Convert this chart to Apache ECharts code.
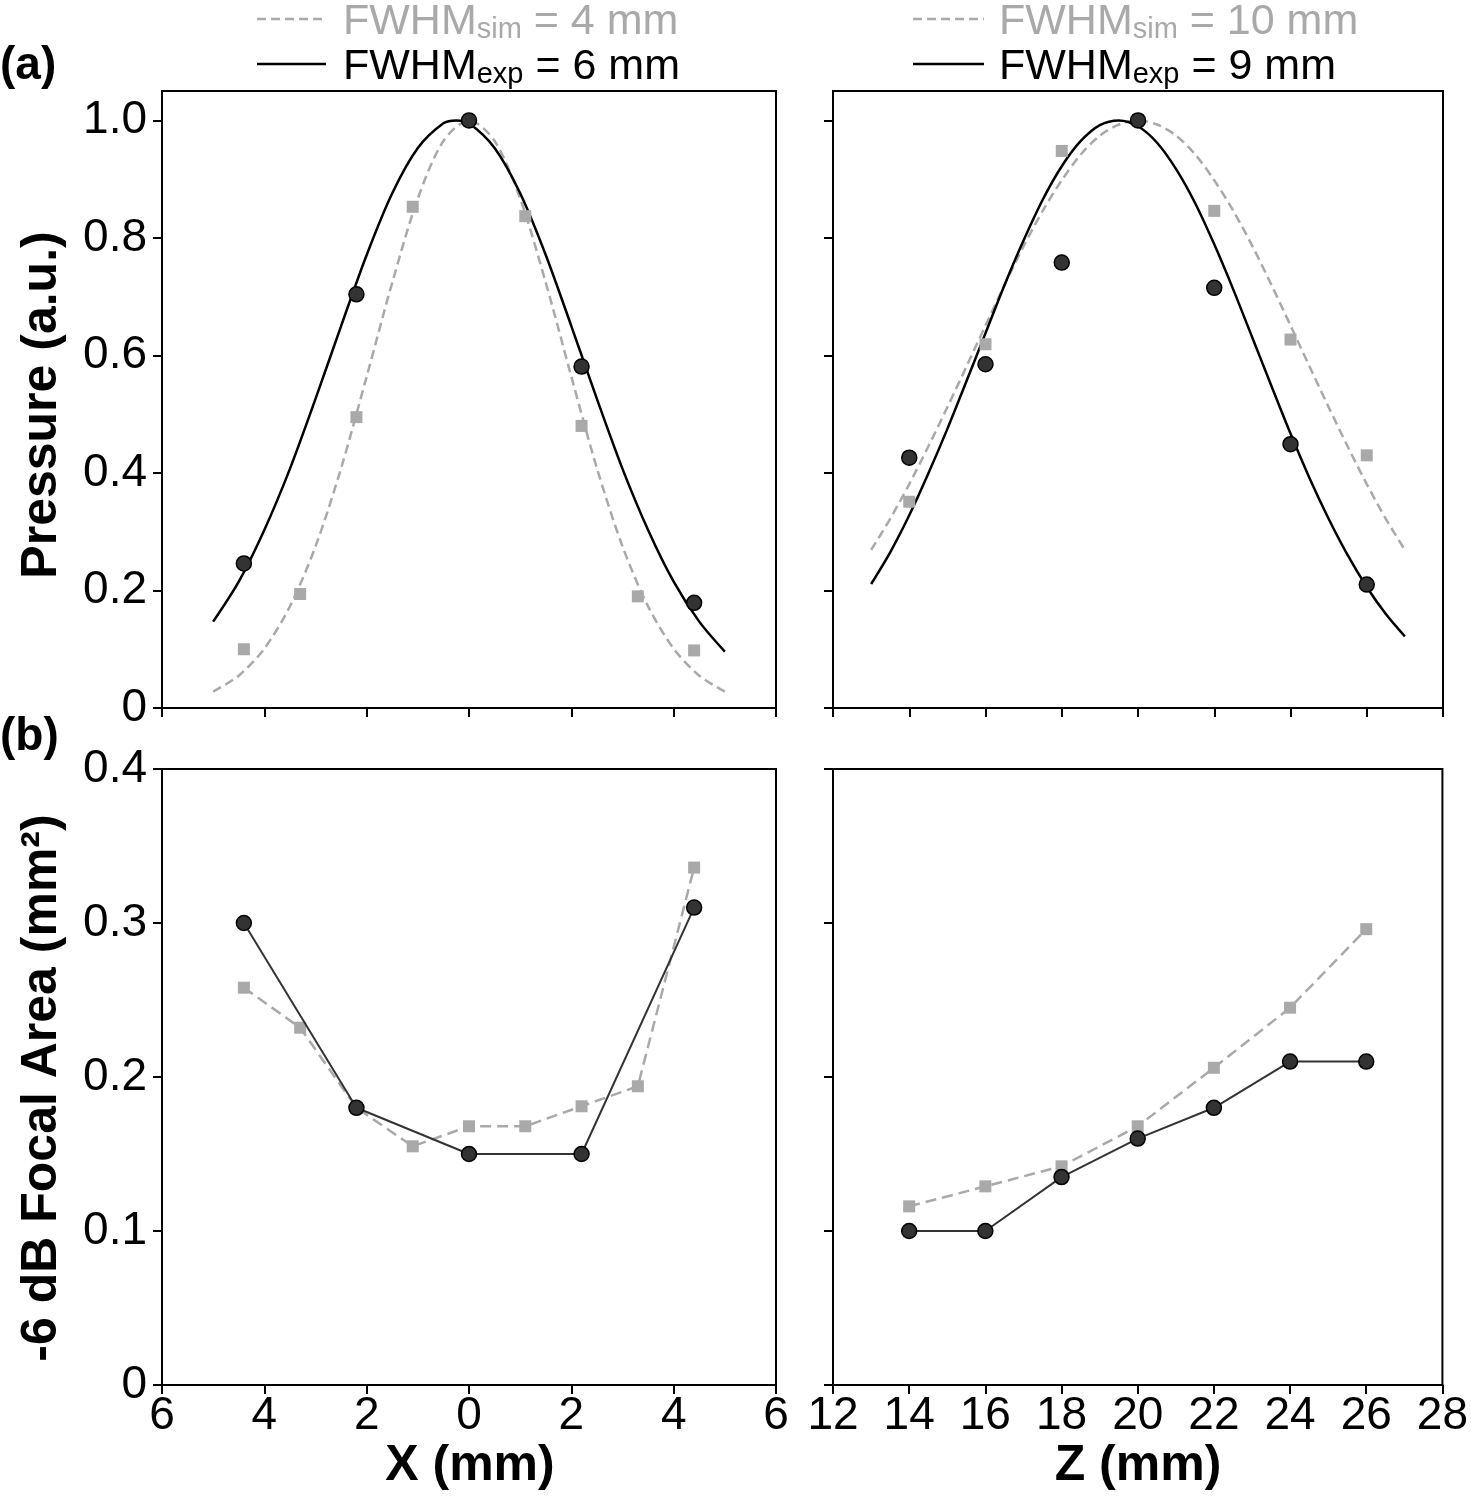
<!DOCTYPE html>
<html>
<head>
<meta charset="utf-8">
<script src="https://cdn.jsdelivr.net/npm/echarts@6/dist/echarts.min.js"></script>
<style>html,body{margin:0;padding:0;background:#fff;}#c{width:1471px;height:1500px;}</style>
</head>
<body>
<div id="c"></div>
<script>
// ---- tick labels ----
const xTicks = [-6, -4, -2, 0, 2, 4, 6];
const zTicks = [12, 14, 16, 18, 20, 22, 24, 26, 28];
const pressureTicks = [0, 0.2, 0.4, 0.6, 0.8, 1.0];
const areaTicks = [0, 0.1, 0.2, 0.3, 0.4];

// ---- (a) lateral X: measured points ----
const xExpPos = [-4.4, -2.2, 0, 2.2, 4.4];
const xExpPressure = [0.246, 0.704, 1.0, 0.581, 0.179];
const xSimPos = [-4.4, -3.3, -2.2, -1.1, 0, 1.1, 2.2, 3.3, 4.4];
const xSimPressure = [0.100, 0.194, 0.495, 0.853, 1.0, 0.837, 0.480, 0.190, 0.098];
// fitted curves
const xExpFitPos = [-5, -4.5, -4, -3.5, -3, -2.5, -2, -1.5, -1, -0.5, -0.25, 0, 0.5, 1, 1.5, 2, 2.5, 3, 3.5, 4, 4.5, 5];
const xExpFit = [0.147, 0.215, 0.303, 0.407, 0.526, 0.650, 0.771, 0.876, 0.953, 0.995, 1.0, 0.995, 0.953, 0.876, 0.771, 0.650, 0.526, 0.407, 0.303, 0.215, 0.147, 0.096];
const xSimFitPos = [-5, -4.5, -4, -3.5, -3, -2.5, -2, -1.5, -1, -0.5, 0, 0.5, 1, 1.5, 2, 2.5, 3, 3.5, 4, 4.5, 5];
const xSimFit = [0.028, 0.055, 0.101, 0.173, 0.275, 0.408, 0.564, 0.724, 0.867, 0.965, 1.0, 0.965, 0.867, 0.724, 0.564, 0.408, 0.275, 0.173, 0.101, 0.055, 0.028];

// ---- (a) axial Z ----
const zPos = [14, 16, 18, 20, 22, 24, 26];
const zExpPressure = [0.426, 0.585, 0.758, 1.0, 0.715, 0.449, 0.210];
const zSimPressure = [0.351, 0.619, 0.948, 1.0, 0.846, 0.627, 0.430];
const zFitPos = [13, 13.5, 14, 14.5, 15, 15.5, 16, 16.5, 17, 17.5, 18, 18.5, 19, 19.5, 20, 20.5, 21, 21.5, 22, 22.5, 23, 23.5, 24, 24.5, 25, 25.5, 26, 26.5, 27];
const zExpFit = [0.211, 0.265, 0.328, 0.399, 0.475, 0.556, 0.638, 0.720, 0.796, 0.865, 0.922, 0.965, 0.992, 1.000, 0.990, 0.962, 0.917, 0.859, 0.789, 0.712, 0.630, 0.548, 0.467, 0.391, 0.322, 0.260, 0.206, 0.160, 0.122];
const zSimFit = [0.269, 0.322, 0.381, 0.445, 0.512, 0.581, 0.651, 0.720, 0.786, 0.846, 0.898, 0.942, 0.974, 0.993, 1.000, 0.993, 0.974, 0.942, 0.898, 0.846, 0.786, 0.720, 0.651, 0.581, 0.512, 0.445, 0.381, 0.322, 0.269];

// ---- (b) -6 dB focal area ----
const xExpArea = [0.300, 0.180, 0.150, 0.150, 0.310];
const xSimArea = [0.258, 0.232, 0.180, 0.155, 0.168, 0.168, 0.181, 0.194, 0.336];
const zExpArea = [0.100, 0.100, 0.135, 0.160, 0.180, 0.210, 0.210];
const zSimArea = [0.116, 0.129, 0.142, 0.168, 0.206, 0.245, 0.296];

// ---- texts ----
const legendLeft = [['sim', ' = 4 mm'], ['exp', ' = 6 mm']];
const legendRight = [['sim', ' = 10 mm'], ['exp', ' = 9 mm']];

const FONT = "'Liberation Sans', Arial, Helvetica, sans-serif";
const GRAY = '#a9a9a9';
const DARK = '#333333';

const zip = (a, b) => a.map((v, i) => [v, b[i]]);

const G = [
  { left: 162, top: 91, width: 614, height: 617 },
  { left: 833, top: 91, width: 610, height: 617 },
  { left: 162, top: 769, width: 614, height: 616 },
  { left: 833, top: 769, width: 610, height: 616 }
].map(g => Object.assign({ show: true, borderColor: '#000', borderWidth: 2, backgroundColor: 'transparent' }, g));

function xAxis(gi, min, max, ticks, showLabel, fmt) {
  return {
    type: 'value', gridIndex: gi, min: min, max: max, interval: 2,
    axisLine: { show: true, onZero: false, lineStyle: { color: '#000', width: 2 } },
    axisTick: { show: true, inside: false, length: 9, lineStyle: { color: '#000', width: 2 } },
    splitLine: { show: false },
    axisLabel: { show: showLabel, color: '#000', fontSize: 46, fontFamily: FONT, margin: 8,
      formatter: fmt, showMinLabel: true, showMaxLabel: true }
  };
}
function yAxis(gi, max, ticks, showLabel) {
  return {
    type: 'value', gridIndex: gi, min: 0, max: max,
    axisLine: { show: true, onZero: false, lineStyle: { color: '#000', width: 2 } },
    axisTick: { show: true, inside: false, length: 9, customValues: ticks, lineStyle: { color: '#000', width: 2 } },
    splitLine: { show: false },
    axisLabel: { show: showLabel, customValues: ticks, color: '#000', fontSize: 46, fontFamily: FONT, margin: 15,
      formatter: v => (v === 0 ? '0' : v.toFixed(1)) }
  };
}

const dashLine = (xi, data, dash) => ({
  type: 'line', xAxisIndex: xi, yAxisIndex: xi, data: data, smooth: 0.3, showSymbol: false, symbol: 'none',
  lineStyle: { color: GRAY, width: 2.5, type: dash }, z: 2, silent: true
});
const solidLine = (xi, data, color, w) => ({
  type: 'line', xAxisIndex: xi, yAxisIndex: xi, data: data, smooth: 0.3, showSymbol: false, symbol: 'none',
  lineStyle: { color: color, width: w }, z: 3, silent: true
});
const squares = (xi, data) => ({
  type: 'scatter', xAxisIndex: xi, yAxisIndex: xi, data: data, symbol: 'rect', symbolSize: 12,
  itemStyle: { color: GRAY, opacity: 1 }, z: 4, silent: true
});
const circles = (xi, data) => ({
  type: 'scatter', xAxisIndex: xi, yAxisIndex: xi, data: data, symbol: 'circle', symbolSize: 15,
  itemStyle: { color: DARK, borderColor: '#000', borderWidth: 1.5, opacity: 1 }, z: 5, silent: true
});
const markerLine = (xi, data, color, w, dash, sym, size, item, z) => ({
  type: 'line', xAxisIndex: xi, yAxisIndex: xi, data: data, showSymbol: true, symbol: sym, symbolSize: size,
  lineStyle: { color: color, width: w, type: dash }, itemStyle: item, z: z, silent: true
});

function legendGraphics(lineX0, lineX1, textX, rows) {
  const out = [];
  rows.forEach((r, i) => {
    const y = i === 0 ? 19 : 64;
    const col = i === 0 ? GRAY : '#000';
    out.push({
      type: 'line', shape: { x1: lineX0, y1: y, x2: lineX1, y2: y },
      style: { stroke: col, lineWidth: 2.5, lineDash: i === 0 ? [9, 5] : null }
    });
    out.push({
      type: 'text', x: textX, y: y,
      style: {
        text: '{m|FWHM}{s|' + r[0] + '}{m|' + r[1] + '}',
        align: 'left', verticalAlign: 'middle',
        rich: {
          m: { fontSize: 43, fontFamily: FONT, fill: col, color: col, lineHeight: 50, verticalAlign: 'bottom' },
          s: { fontSize: 29, fontFamily: FONT, fill: col, color: col, lineHeight: 22, verticalAlign: 'bottom' }
        }
      }
    });
  });
  return out;
}

const graphics = [].concat(
  legendGraphics(257, 326, 343, legendLeft),
  legendGraphics(913, 984, 999, legendRight),
  [
    { type: 'text', x: 0, y: 66, style: { text: '(a)', fontSize: 46, fontWeight: 'bold', fontFamily: FONT, fill: '#000', align: 'left', verticalAlign: 'middle' } },
    { type: 'text', x: 0, y: 737, style: { text: '(b)', fontSize: 46, fontWeight: 'bold', fontFamily: FONT, fill: '#000', align: 'left', verticalAlign: 'middle' } },
    { type: 'text', x: 42, y: 405, rotation: Math.PI / 2, style: { text: 'Pressure (a.u.)', fontSize: 50, fontWeight: 'bold', fontFamily: FONT, fill: '#000', align: 'center', verticalAlign: 'middle' } },
    { type: 'text', x: 42, y: 1088, rotation: Math.PI / 2, style: { text: '-6 dB Focal Area (mm²)', fontSize: 50, fontWeight: 'bold', fontFamily: FONT, fill: '#000', align: 'center', verticalAlign: 'middle' } },
    { type: 'text', x: 470, y: 1466, style: { text: 'X (mm)', fontSize: 50, fontWeight: 'bold', fontFamily: FONT, fill: '#000', align: 'center', verticalAlign: 'middle' } },
    { type: 'text', x: 1138, y: 1466, style: { text: 'Z (mm)', fontSize: 50, fontWeight: 'bold', fontFamily: FONT, fill: '#000', align: 'center', verticalAlign: 'middle' } }
  ]
);

const option = {
  animation: false,
  backgroundColor: '#fff',
  grid: G,
  xAxis: [
    xAxis(0, -6, 6, xTicks, false),
    xAxis(1, 12, 28, zTicks, false),
    xAxis(2, -6, 6, xTicks, true, v => String(Math.abs(v))),
    xAxis(3, 12, 28, zTicks, true, v => String(v))
  ],
  yAxis: [
    yAxis(0, 1.05, pressureTicks, true),
    yAxis(1, 1.05, pressureTicks, false),
    yAxis(2, 0.4, areaTicks, true),
    yAxis(3, 0.4, areaTicks, false)
  ],
  series: [
    dashLine(0, zip(xSimFitPos, xSimFit), [9, 5]),
    solidLine(0, zip(xExpFitPos, xExpFit), '#000', 2.5),
    squares(0, zip(xSimPos, xSimPressure)),
    circles(0, zip(xExpPos, xExpPressure)),

    dashLine(1, zip(zFitPos, zSimFit), [9, 5]),
    solidLine(1, zip(zFitPos, zExpFit), '#000', 2.5),
    squares(1, zip(zPos, zSimPressure)),
    circles(1, zip(zPos, zExpPressure)),

    markerLine(2, zip(xSimPos, xSimArea), GRAY, 2.5, [11, 6], 'rect', 12, { color: GRAY, opacity: 1 }, 2),
    markerLine(2, zip(xExpPos, xExpArea), DARK, 2, 'solid', 'circle', 15, { color: DARK, borderColor: '#000', borderWidth: 1.5, opacity: 1 }, 3),

    markerLine(3, zip(zPos, zSimArea), GRAY, 2.5, [11, 6], 'rect', 12, { color: GRAY, opacity: 1 }, 2),
    markerLine(3, zip(zPos, zExpArea), DARK, 2, 'solid', 'circle', 15, { color: DARK, borderColor: '#000', borderWidth: 1.5, opacity: 1 }, 3)
  ],
  graphic: graphics
};

const chart = echarts.init(document.getElementById('c'), null, { renderer: 'canvas' });
chart.setOption(option);
</script>
</body>
</html>
